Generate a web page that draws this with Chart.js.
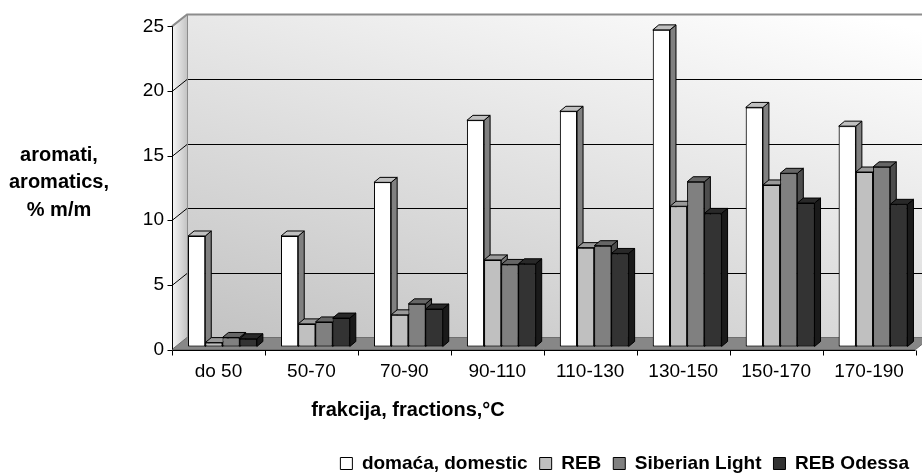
<!DOCTYPE html>
<html>
<head>
<meta charset="utf-8">
<script src="https://cdn.jsdelivr.net/npm/chart.js@4"></script>
<style>
  body { margin: 0; background: #fff; }
  #wrap { width: 922px; height: 475px; }
</style>
</head>
<body>
<div id="wrap"><canvas id="aromChart" width="922" height="475"></canvas></div>
<script>
const categories = ['do 50', '50-70', '70-90', '90-110', '110-130', '130-150', '150-170', '170-190'];
const domestic = [8.55, 8.55, 12.7, 17.5, 18.2, 24.5, 18.5, 17.05];
const reb = [0.3, 1.75, 2.45, 6.7, 7.65, 10.85, 12.5, 13.5];
const siberian = [0.7, 1.9, 3.3, 6.35, 7.8, 12.75, 13.4, 13.9];
const odessa = [0.6, 2.2, 2.9, 6.4, 7.2, 10.3, 11.1, 11.0];
const seriesNames = ['domaća, domestic', 'REB', 'Siberian Light', 'REB Odessa'];
const seriesColors = ['#ffffff', '#c0c0c0', '#808080', '#333333'];
const topColors = ['#c0c0c0', '#9a9a9a', '#666666', '#292929'];
const sideColors = ['#808080', '#767676', '#4d4d4d', '#1a1a1a'];
const yTicks = [0, 5, 10, 15, 20, 25];

const FONT = '"Liberation Sans", Arial, sans-serif';
Chart.defaults.font.family = FONT;
Chart.defaults.color = '#000';

// bars stand a little behind the front edge of the floor
const BAR_DX = 4, BAR_DY = 3;
// back wall offset from the front edge
const WALL_DX = 15, WALL_DY = -12;
// bar depth
const DEPTH_DX = 6, DEPTH_DY = -5;

function poly(ctx, pts, fill, stroke) {
    ctx.beginPath();
    ctx.moveTo(pts[0][0], pts[0][1]);
    for (let i = 1; i < pts.length; i++) ctx.lineTo(pts[i][0], pts[i][1]);
    ctx.closePath();
    if (fill) { ctx.fillStyle = fill; ctx.fill(); }
    if (stroke) { ctx.strokeStyle = stroke; ctx.stroke(); }
}

const walls = {
    id: 'walls',
    beforeDatasetsDraw(chart) {
        const ctx = chart.ctx;
        const area = chart.chartArea;
        const ys = chart.scales.y;
        const xs = chart.scales.x;
        const fy = v => ys.getPixelForValue(v) + BAR_DY;
        const fl = area.left - BAR_DX;
        const fr = area.right - BAR_DX;
        const y0 = fy(0), yTop = fy(yTicks[yTicks.length - 1]);

        ctx.save();
        ctx.lineWidth = 1;

        // back wall, darker towards the bottom left
        const g = ctx.createLinearGradient(fl + WALL_DX, y0 + WALL_DY, fl + WALL_DX + 140, y0 + WALL_DY - 480);
        g.addColorStop(0, '#c2c2c2');
        g.addColorStop(1, '#ffffff');
        poly(ctx, [[fl + WALL_DX, yTop + WALL_DY], [fr + WALL_DX + 20, yTop + WALL_DY],
                   [fr + WALL_DX + 20, y0 + WALL_DY], [fl + WALL_DX, y0 + WALL_DY]], g, null);

        // left wall
        const lg = ctx.createLinearGradient(fl, 0, fl + WALL_DX, 0);
        lg.addColorStop(0, '#f6f6f6');
        lg.addColorStop(1, '#c4c4c4');
        poly(ctx, [[fl, yTop], [fl + WALL_DX, yTop + WALL_DY], [fl + WALL_DX, y0 + WALL_DY], [fl, y0]], lg, null);

        // floor
        poly(ctx, [[fl, y0], [fr, y0], [fr + WALL_DX, y0 + WALL_DY], [fl + WALL_DX, y0 + WALL_DY]], '#878787', '#6e6e6e');

        // gridlines
        ctx.strokeStyle = '#000';
        yTicks.slice(1, -1).forEach(v => {
            const y = Math.round(fy(v)) + 0.5;
            ctx.beginPath();
            ctx.moveTo(fl, y);
            ctx.lineTo(fl + WALL_DX, y + WALL_DY);
            ctx.lineTo(fr + WALL_DX + 20, y + WALL_DY);
            ctx.stroke();
        });

        // wall edges
        ctx.strokeStyle = '#8c8c8c';
        ctx.lineWidth = 2;
        ctx.beginPath();
        ctx.moveTo(fl, yTop);
        ctx.lineTo(fl + WALL_DX, yTop + WALL_DY);
        ctx.lineTo(fr + WALL_DX + 20, yTop + WALL_DY);
        ctx.stroke();
        ctx.lineWidth = 1;
        ctx.beginPath();
        ctx.moveTo(fl + WALL_DX + 0.5, yTop + WALL_DY);
        ctx.lineTo(fl + WALL_DX + 0.5, y0 + WALL_DY);
        ctx.stroke();

        // front axes
        ctx.strokeStyle = '#000';
        const ax = Math.round(fl) + 0.5;
        ctx.beginPath();
        ctx.moveTo(ax, yTop);
        ctx.lineTo(ax, y0);
        yTicks.forEach(v => {
            const y = Math.round(fy(v)) + 0.5;
            ctx.moveTo(ax - 5, y);
            ctx.lineTo(ax, y);
        });
        const by = Math.round(y0) + 0.5;
        ctx.moveTo(ax, by);
        ctx.lineTo(fr, by);
        for (let i = 0; i <= categories.length; i++) {
            const x = Math.round(xs.getPixelForValue(i - 0.5) - BAR_DX) + 0.5;
            ctx.moveTo(x, by);
            ctx.lineTo(x, by + 5);
        }
        ctx.stroke();
        ctx.restore();
    },
    // redraw the bars left to right so each front face hides the side of its left neighbour
    afterDatasetsDraw(chart) {
        const ctx = chart.ctx;
        ctx.save();
        ctx.lineWidth = 1;
        for (let i = 0; i < chart.data.datasets.length; i++) {
            chart.getDatasetMeta(i).data.forEach(el => {
                el.draw(ctx);
                const p = el.getProps(['x', 'y', 'base', 'width'], true);
                const l = p.x - p.width / 2, r = p.x + p.width / 2;
                ctx.lineWidth = 1;
                poly(ctx, [[r, p.y], [r + DEPTH_DX, p.y + DEPTH_DY], [r + DEPTH_DX, p.base + DEPTH_DY], [r, p.base]],
                     sideColors[i], '#000');
                poly(ctx, [[l, p.y], [l + DEPTH_DX, p.y + DEPTH_DY], [r + DEPTH_DX, p.y + DEPTH_DY], [r, p.y]],
                     topColors[i], '#000');
            });
        }
        ctx.restore();
    },
    afterDraw(chart) {
        const ctx = chart.ctx;
        ctx.save();
        ctx.fillStyle = '#000';
        ctx.font = 'bold 20px ' + FONT;
        ctx.textAlign = 'center';
        ctx.textBaseline = 'middle';
        ['aromati,', 'aromatics,', '% m/m'].forEach((t, k) => ctx.fillText(t, 59, 155 + k * 27.5));
        ctx.fillText('frakcija, fractions,°C', 408, 410);
        ctx.restore();
    }
};

const datasets = [domestic, reb, siberian, odessa].map((vals, i) => ({
    label: seriesNames[i],
    data: vals,
    backgroundColor: seriesColors[i],
    borderColor: '#000',
    borderWidth: 1,
    borderSkipped: false,
    categoryPercentage: 0.74,
    barPercentage: 1.0
}));

new Chart(document.getElementById('aromChart'), {
    type: 'bar',
    data: { labels: categories, datasets: datasets },
    plugins: [walls],
    options: {
        responsive: false,
        animation: false,
        layout: { padding: { left: 0, right: 1, top: 19, bottom: -8 } },
        plugins: {
            tooltip: { enabled: false },
            legend: {
                position: 'bottom',
                align: 'end',
                labels: {
                    boxWidth: 12,
                    boxHeight: 12,
                    padding: 12,
                    color: '#000',
                    font: { size: 19, weight: 'bold' }
                }
            }
        },
        scales: {
            x: {
                grid: { display: false, drawTicks: false },
                border: { display: false },
                ticks: { padding: 14, labelOffset: -BAR_DX, font: { size: 19 }, maxRotation: 0 },
                afterFit: s => { s.height = 95.5; }
            },
            y: {
                min: 0,
                max: 25,
                grid: { display: false, drawTicks: false },
                border: { display: false },
                ticks: { stepSize: 5, padding: 12, labelOffset: BAR_DY, font: { size: 19 } },
                afterFit: s => { s.width = 176; }
            }
        }
    }
});
</script>
</body>
</html>
